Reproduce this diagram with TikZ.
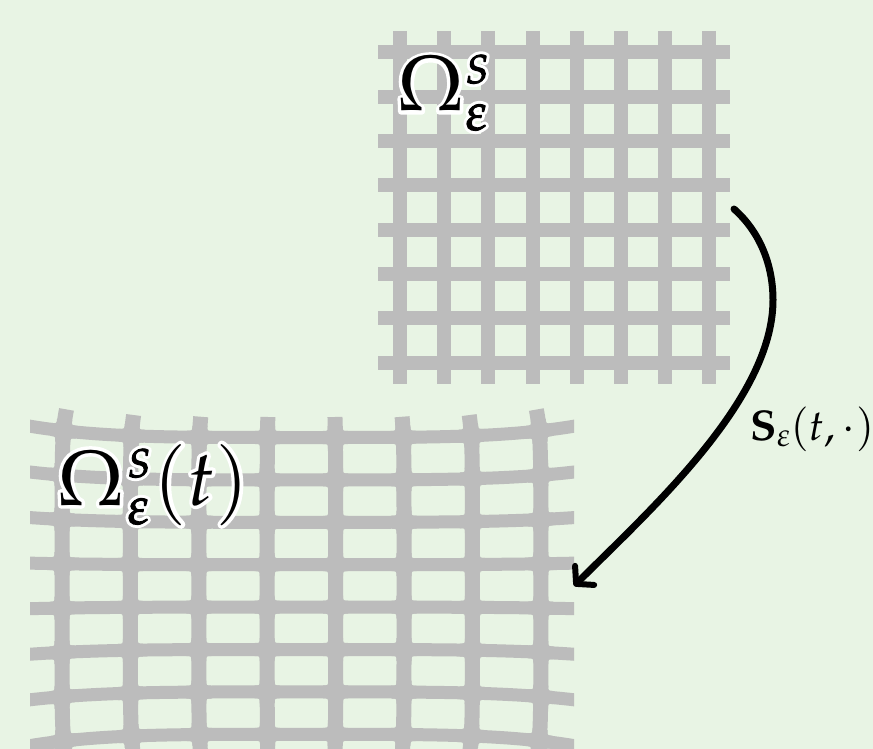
\documentclass[tikz,border=0pt]{standalone}
\usepackage{mathpazo}
\usetikzlibrary{arrows.meta}
\definecolor{bgc}{RGB}{232,244,228}
\definecolor{barc}{RGB}{188,188,188}
\newcommand\plainarg[1]{#1}
\newcommand\heavyarg[1]{\special{pdf:code q 2 Tr 1.1 w 1 j 0 0 0 RG}#1\special{pdf:code 0 Tr Q}}
\let\hv\heavyarg
\newcommand\halotext[1]{\rlap{\let\hv\plainarg\special{pdf:code q 2 Tr 7 w 1 j 1 J 1 1 1 RG 1 1 1 rg}#1\special{pdf:code 0 Tr Q}}#1}
\newcommand\Pt[2]{({\cx+(#1)+\sx*(#2)},{\cy+(#2)+\sy*(#1)})}
\newcommand\upS{\rlap{\raisebox{28pt}{\fontsize{40}{40}\selectfont\hv{$S$}}}}
\newcommand\dnE{\rlap{\raisebox{-19pt}{\fontsize{53}{53}\selectfont\hv{$\varepsilon$}}}}
\tikzset{
  flatbar/.style={draw=barc,line width=14pt},
  vbar/.style={draw=barc,line width=15pt,line join=round},
  hbar/.style={draw=barc,line width=13pt,line join=round},
  bigmath/.style={inner sep=0pt,anchor=base west,font=\fontsize{78}{90}\selectfont},
  maparrow/.style={line width=7pt,line cap=round,line join=round,-{Straight Barb[length=12pt,width=27pt,round,line width=6pt]}}
}
\begin{document}
\begin{tikzpicture}[x=1pt,y=-1pt,
  declare function={
    uu(\a)=(\a-302)/272;
    vv(\b)=(\b-585.75)/148.25;
    mapx(\a,\b)=\a-1.8*uu(\a)*pow(vv(\b),8);
    mapy(\a,\b)=\b+11*vv(\b)*pow(uu(\a),4);
  }]
\useasboundingbox (0,0) rectangle (873,749);
\fill[bgc] (0,0) rectangle (873,749);
% reference grid
\foreach \i in {0,...,7}{
  \pgfmathsetmacro\xc{400+44.2*\i}
  \pgfmathsetmacro\yc{52.5+44.3*\i}
  \draw[flatbar] (\xc,31) -- (\xc,384);
  \draw[flatbar] (378,\yc) -- (730,\yc);
}
% deformed grid
\begin{scope}
\clip (30,380) rectangle (574,749);
\foreach \i in {0,...,7}{
  \pgfmathsetmacro\xc{62+68.4*\i}
  \draw[vbar] plot[domain=417:750,samples=50,variable=\t] ({mapx(\xc,\t)},{mapy(\xc,\t)});
  \pgfmathsetmacro\yc{437.5+42.4*\i}
  \draw[hbar] plot[domain=10:594,samples=70,variable=\t] ({mapx(\t,\yc)},{mapy(\t,\yc)});
}
\foreach \i in {0,...,7}{
  \foreach \j in {0,...,7}{
    \pgfmathsetmacro\xr{62+68.4*\i}
    \pgfmathsetmacro\yr{437.5+42.4*\j}
    \pgfmathsetmacro\cx{mapx(\xr,\yr)}
    \pgfmathsetmacro\cy{mapy(\xr,\yr)}
    \pgfmathsetmacro\sy{44*vv(\yr)*pow(uu(\xr),3)/272}
    \pgfmathsetmacro\sx{-14.4*uu(\xr)*pow(vv(\yr),7)/148.25}
    \fill[barc] \Pt{12.5}{6.5} .. controls \Pt{7.5}{6.5} .. \Pt{7.5}{11.5} -- \Pt{-7.5}{11.5}
      .. controls \Pt{-7.5}{6.5} .. \Pt{-12.5}{6.5} -- \Pt{-12.5}{-6.5}
      .. controls \Pt{-7.5}{-6.5} .. \Pt{-7.5}{-11.5} -- \Pt{7.5}{-11.5}
      .. controls \Pt{7.5}{-6.5} .. \Pt{12.5}{-6.5} -- cycle;
  }
}
\end{scope}
% labels
\node[bigmath] (reflabel) at (397,111) {\halotext{$\Omega$\kern1.5pt\upS\dnE}};
\node[bigmath] (deflabel) at (57,505) {\halotext{$\Omega$\kern3.5pt\upS\dnE\kern26.5pt$(t)$}};
\node[inner sep=0pt,anchor=base west,font=\fontsize{43}{50}\selectfont] (maplabel) at (749.5,440) {$\mathbf{S}_{\varepsilon}(t,\cdot)$};
% map arrow
\coordinate (from) at (734,209);
\coordinate (bend) at (773,300);
\coordinate (to) at (574,586);
\draw[maparrow] (from) .. controls (760,232) and (773,265) .. (bend)
  .. controls (773,400) and (650,510) .. (to);
\end{tikzpicture}
\end{document}
